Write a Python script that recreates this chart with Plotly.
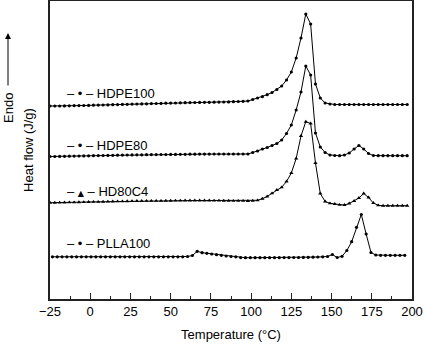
import plotly.graph_objects as go

# Temperature grid (°C) for the HDPE-based samples
T = [-25, -22, -19, -16, -13, -10, -7, -4, -1, 2, 5, 8, 11, 14, 17, 20, 23, 26, 29, 32,
     35, 38, 41, 44, 47, 50, 53, 56, 59, 62, 65, 68, 71, 74, 77, 80, 83, 86, 89, 92,
     95, 98, 101, 104, 107, 110, 113, 116, 119, 122, 125, 128, 131, 134, 137, 140, 143, 146, 149, 152,
     155, 158, 161, 164, 167, 170, 173, 176, 179, 182, 185, 188, 191, 194, 197]

# Temperature grid (°C) for PLLA100
T_PLLA = [-23.5, -20.5, -17.5, -14.5, -11.5, -8.5, -5.5, -2.5, 0.5, 3.5, 6.5, 9.5, 12.5, 15.5, 18.5,
          21.5, 24.5, 27.5, 30.5, 33.5, 36.5, 39.5, 42.5, 45.5, 48.5, 51.5, 54.5, 57.5, 60.5, 63.5,
          66.5, 69.5, 72.5, 75.5, 78.5, 81.5, 84.5, 87.5, 90.5, 93.5, 96.5, 99.5, 102.5, 105.5, 108.5,
          111.5, 114.5, 117.5, 120.5, 123.5, 126.5, 129.5, 132.5, 135.5, 138.5, 141.5, 144.5, 147.5, 150.5, 153.5,
          156.5, 159.5, 162.5, 165.5, 168.5, 171.5, 174.5, 177.5, 180.5, 183.5, 186.5, 189.5, 192.5, 195.5, 198.5]

# Heat flow (arbitrary units, curves offset vertically)
HDPE100 = [194, 194, 194, 194.1, 194.2, 194.3, 194.4, 194.5, 194.6, 194.8, 194.9, 195, 195.1, 195.3, 195.4,
           195.6, 195.7, 195.9, 196, 196.1, 196.2, 196.4, 196.5, 196.6, 196.8, 196.9, 197, 197.2, 197.3, 197.4,
           197.5, 197.6, 197.7, 197.7, 197.8, 197.9, 198, 198.1, 198.3, 198.5, 198.7,
           199, 200.5, 202, 203.3, 205.3, 207.5, 210.5, 214, 220, 228, 242, 262, 286, 276, 216, 202, 197, 196,
           195.5, 195.5, 195.5, 195.5, 195.5, 195.5, 195.5, 195.5, 195.5, 195.5, 195.5, 195.5, 195.5, 195.5, 195.5, 195.5]

HDPE80 = [143.5, 143.5, 143.6, 143.7, 143.8, 143.9, 144, 144.1, 144.2, 144.3, 144.4, 144.5, 144.6, 144.7, 144.8,
          144.9, 145, 145.1, 145.2, 145.2, 145.3, 145.4, 145.4, 145.5, 145.5, 145.6, 145.6, 145.7, 145.7, 145.8,
          145.8, 145.9, 145.9, 145.9, 146, 146, 146, 146, 146, 146, 146,
          146, 147.5, 149, 151, 152.5, 154.5, 156.5, 160, 166.5, 175, 190, 208, 234, 225, 167, 153, 147.5, 145,
          144.5, 144.3, 145, 147, 151, 154.5, 151, 146.5, 144.5, 144.3,
          144.3, 144.3, 144.3, 144.3, 144.3, 144.3]

HD80C4 = [97.3, 97.3, 97.4, 97.5, 97.6, 97.7, 97.8, 97.9, 98, 98.1, 98.2, 98.3, 98.4, 98.5, 98.6,
          98.7, 98.8, 98.9, 99, 99, 99.1, 99.1, 99.2, 99.2, 99.3, 99.3, 99.4, 99.4, 99.5, 99.5,
          99.5, 99.5, 99.5, 99.5, 99.4, 99.4, 99.3, 99.3, 99.2, 99.2, 99.2,
          99, 99.3, 99.7, 101.3, 103.5, 106.7, 110, 112.7, 118.5, 127, 141.5, 164, 178.3, 176.5, 137, 106.5, 98.5, 96.7,
          96, 95.2, 95, 96.5, 99, 102, 106.5, 102.5, 97, 94.7,
          94.3, 94.3, 94.3, 94.3, 94.3, 94.3]

PLLA100 = [43.2, 43.2, 43.2, 43.2, 43.2, 43.2, 43.2, 43.2, 43.2, 43.2, 43.2, 43.2, 43.2, 43.2, 43.2,
           43.2, 43.2, 43.2, 43.2, 43.2, 43.2, 43.2, 43.2, 43.2, 43.2, 43.2, 43.2, 43.2,
           43.5, 44.5, 48.7, 47.3, 46.7, 46, 45.3, 44.7, 44, 43.5, 43.2,
           42.4, 42.3, 42.3, 42.3, 42.3, 42.3, 42.3, 42.3, 42.3, 42.4, 42.4, 42.5, 42.5, 42.6, 42.7,
           42.8, 43, 43.2, 43.5,
           45.5, 42.5, 43.7, 49.5, 58.3, 72.7, 85.5, 66, 47.5, 45,
           44.7, 44.7, 44.7, 44.7, 44.7, 44.7]

series = [
    ("HDPE100", T, HDPE100, "circle", 3.2),
    ("HDPE80", T, HDPE80, "circle", 3.2),
    ("HD80C4", T, HD80C4, "triangle-up", 3.8),
    ("PLLA100", T_PLLA, PLLA100, "circle", 3.2),
]

fig = go.Figure()
for name, x, y, sym, ms in series:
    fig.add_trace(go.Scatter(
        x=x, y=y, mode="lines+markers", name=name,
        line=dict(color="black", width=1),
        marker=dict(symbol=sym, size=ms, color="black"),
        showlegend=False,
    ))

FONT = "Liberation Sans, Arial, sans-serif"
NB = "\u00a0"

DOT = "•"
TRI = "<span style='font-family:DejaVu Sans;font-size:8px'>▲</span>"
labels = [("HDPE100", DOT, 93), ("HDPE80", DOT, 145.7), ("HD80C4", TRI, 191.7), ("PLLA100", DOT, 243.3)]
for name, sym, py in labels:
    fig.add_annotation(
        xref="paper", yref="paper",
        x=(65 - 50) / 362, y=(299 - py) / 298,
        text="–" + NB + sym + NB + "–" + NB + name, showarrow=False,
        xanchor="left", yanchor="middle",
        font=dict(family=FONT, size=13, color="black"),
    )

# Endo arrow
fig.add_annotation(
    xref="paper", yref="paper",
    x=(8 - 50) / 362, y=(299 - 108) / 298,
    text="Endo", textangle=-90, showarrow=False,
    xanchor="center", yanchor="middle",
    font=dict(family=FONT, size=13, color="black"),
)
fig.add_annotation(
    xref="paper", yref="paper",
    x=(8 - 50) / 362, y=(299 - 33) / 298,
    text="", showarrow=True, ax=0, ay=54,
    arrowhead=2, arrowsize=1.2, arrowwidth=1, arrowcolor="black",
)

fig.update_layout(
    width=424, height=344,
    margin=dict(l=50, r=12, t=1, b=45, autoexpand=False),
    paper_bgcolor="white", plot_bgcolor="white",
    font=dict(family=FONT, size=13, color="black"),
    xaxis=dict(
        range=[-25, 200], tickmode="linear", tick0=-25, dtick=25,
        ticks="inside", ticklen=6, tickwidth=1, tickcolor="#222",
        minor=dict(ticks="inside", ticklen=3, tickwidth=1, tickcolor="#222", dtick=12.5, tick0=-25),
        showline=True, linewidth=1.5, linecolor="#222", mirror=True,
        showgrid=False, zeroline=False, automargin=False,
        title=dict(text="Temperature (°C)", standoff=12, font=dict(size=13)),
        tickfont=dict(size=13),
    ),
    yaxis=dict(
        range=[1, 299], showticklabels=False, ticks="",
        showline=True, linewidth=1.5, linecolor="#222", mirror=True,
        showgrid=False, zeroline=False, automargin=False,
        title=dict(text="Heat flow (J/g)", standoff=12, font=dict(size=13)),
    ),
)

fig.write_html("out.html", config={"displayModeBar": False},
               post_script="document.body.style.margin='0';")
